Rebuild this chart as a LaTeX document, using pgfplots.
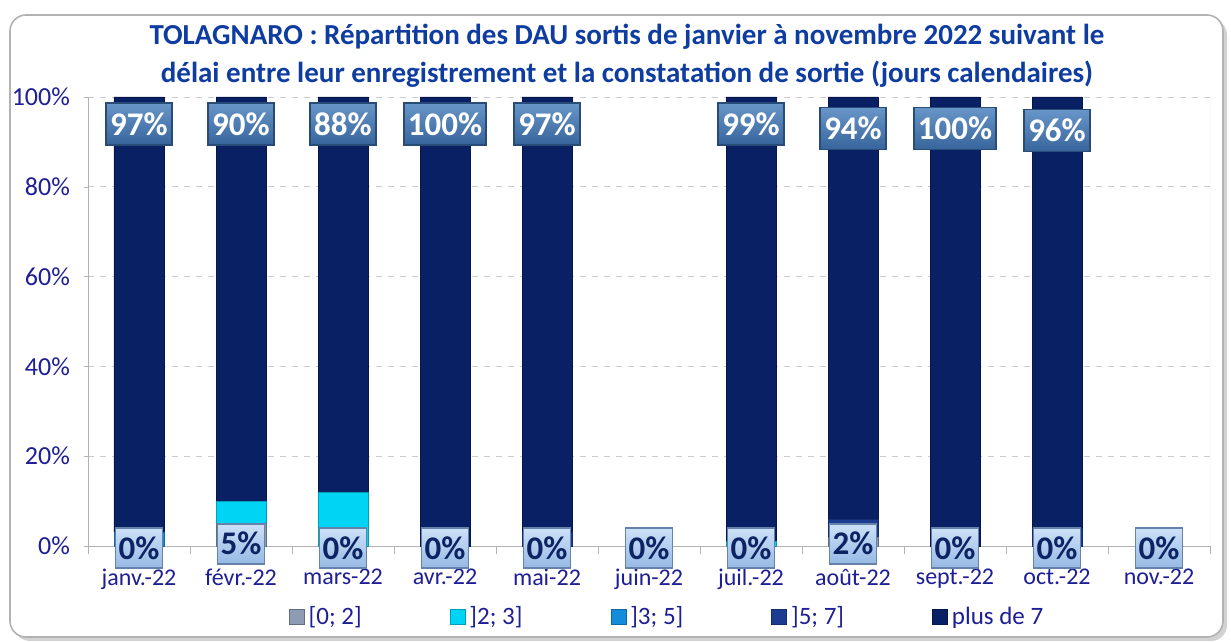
\documentclass[border=0pt]{standalone}
\usepackage{fontspec}
\setmainfont{Carlito}
\usepackage{pgfplots}
\pgfplotsset{compat=1.18}

\definecolor{titlec}{RGB}{14,60,160}
\definecolor{tickc}{RGB}{30,30,150}
\definecolor{cA}{RGB}{140,156,180}
\definecolor{cB}{RGB}{0,212,245}
\definecolor{cC}{RGB}{20,140,220}
\definecolor{cD}{RGB}{28,60,145}
\definecolor{cE}{RGB}{10,32,100}
\definecolor{lblnavy}{RGB}{12,36,100}
\definecolor{topdraw}{RGB}{40,75,120}
\definecolor{toptop}{RGB}{105,150,200}
\definecolor{topbot}{RGB}{55,100,155}
\definecolor{botdraw}{RGB}{100,130,170}
\definecolor{bottop}{RGB}{205,225,248}
\definecolor{botbot}{RGB}{150,185,228}

\tikzset{
  toplbl/.style={draw=topdraw, line width=0.8pt,
    top color=toptop, bottom color=topbot,
    text=white, font=\fontsize{16.5}{17}\selectfont\bfseries,
    minimum width=31pt, minimum height=21pt, inner xsep=2pt, inner ysep=0pt},
  botlbl/.style={draw=botdraw, line width=0.8pt,
    top color=bottop, bottom color=botbot,
    text=lblnavy, font=\fontsize{16.5}{17}\selectfont\bfseries,
    minimum width=23pt, minimum height=20pt, inner xsep=1.5pt, inner ysep=0pt},
}

\begin{document}
\begin{tikzpicture}
\useasboundingbox (-44pt,-48pt) rectangle (571.5pt,273pt);
\fill[gray!35, rounded corners=8pt] (-37pt,-47.5pt) rectangle (569.5pt,263.5pt);
\draw[gray!60, fill=white, rounded corners=8pt, line width=0.8pt] (-39pt,-45.5pt) rectangle (567.5pt,265.5pt);

\begin{axis}[
  at={(0,0)}, anchor=south west,
  scale only axis, width=561pt, height=224.5pt,
  ybar stacked, bar width=25pt,
  xmin=-0.5, xmax=10.5, ymin=0, ymax=100,
  axis x line*=bottom, axis y line*=left,
  axis line style={-, draw=gray!60},
  xtick={0,...,10},
  xticklabels={janv.-22,févr.-22,mars-22,avr.-22,mai-22,juin-22,juil.-22,août-22,sept.-22,oct.-22,nov.-22},
  major x tick style={draw=none},
  minor xtick={-0.5,0.5,...,10.5},
  minor x tick style={draw=gray!60},
  minor tick length=4pt,
  tick align=outside,
  ytick={0,20,...,100},
  yticklabels={0\%,20\%,40\%,60\%,80\%,100\%},
  major y tick style={draw=gray!60},
  major tick length=2pt,
  ymajorgrids, grid style={dashed, gray!40},
  xticklabel style={font=\fontsize{12}{13}\selectfont, text=tickc, yshift=-6pt},
  yticklabel style={font=\fontsize{13}{14}\selectfont, text=tickc, xshift=-3.5pt},
  title={TOLAGNARO : Répartition des DAU sortis de janvier à novembre 2022 suivant le\\délai entre leur enregistrement et la constatation de sortie (jours calendaires)},
  title style={at={(0.4804,1)}, anchor=center, yshift=14.75pt, align=center,
    font=\fontsize{14.5}{19}\selectfont\bfseries, text=titlec},
  legend columns=5,
  legend style={draw=none, fill=none, at={(0.517,-0.158)}, anchor=center,
    font=\fontsize{12.5}{14}\selectfont, nodes={text=tickc},
    /tikz/every even column/.append style={column sep=42pt}},
  legend image code/.code={\draw[#1] (0pt,-3.75pt) rectangle (7.5pt,3.75pt);},
]
\addplot[fill=cA, draw=cA!70!black] coordinates {(0,0) (1,5) (2,0) (3,0) (4,0) (5,0) (6,0) (7,2) (8,0) (9,0) (10,0)};
\addlegendentry{\mbox{[0; 2]}}
\addplot[fill=cB, draw=cB!75!black] coordinates {(0,0) (1,5) (2,12) (3,0) (4,0) (5,0) (6,1) (7,0) (8,0) (9,0) (10,0)};
\addlegendentry{\mbox{]2; 3]}}
\addplot[fill=cC, draw=cC!75!black] coordinates {(0,3) (1,0) (2,0) (3,0) (4,0) (5,0) (6,0) (7,0) (8,0) (9,0) (10,0)};
\addlegendentry{\mbox{]3; 5]}}
\addplot[fill=cD, draw=cD!75!black] coordinates {(0,0) (1,0) (2,0) (3,0) (4,3) (5,0) (6,0) (7,4) (8,0) (9,4) (10,0)};
\addlegendentry{\mbox{]5; 7]}}
\addplot[fill=cE, draw=cE!70!black] coordinates {(0,97) (1,90) (2,88) (3,100) (4,97) (5,0) (6,99) (7,94) (8,100) (9,96) (10,0)};
\addlegendentry{plus de 7}
\draw[gray!40] (rel axis cs:1,0) -- (rel axis cs:1,1);
\end{axis}

\begin{axis}[
  at={(0,0)}, anchor=south west,
  scale only axis, width=561pt, height=224.5pt,
  xmin=-0.5, xmax=10.5, ymin=0, ymax=100,
  hide axis, clip=false,
]
% labels of "plus de 7"
\addplot[draw=none, mark=none, point meta=explicit symbolic,
  nodes near coords={\pgfplotspointmeta\%}, nodes near coords align=center,
  every node near coord/.append style={toplbl}]
  coordinates {(0,94)[97] (1,94)[90] (2,94)[88] (3,94)[100] (4,94)[97] (6,94)[99] (7,93)[94] (8,93)[100] (9,92.5)[96]};
% labels of "[0; 2]"
\addplot[draw=none, mark=none, point meta=explicit symbolic,
  nodes near coords={\pgfplotspointmeta\%}, nodes near coords align=center,
  every node near coord/.append style={botlbl}]
  coordinates {(0,-0.5)[0] (1,0.5)[5] (2,-0.5)[0] (3,-0.5)[0] (4,-0.5)[0] (5,-0.5)[0] (6,-0.5)[0] (7,0.5)[2] (8,-0.5)[0] (9,-0.5)[0] (10,-0.5)[0]};
\end{axis}
\end{tikzpicture}
\end{document}
